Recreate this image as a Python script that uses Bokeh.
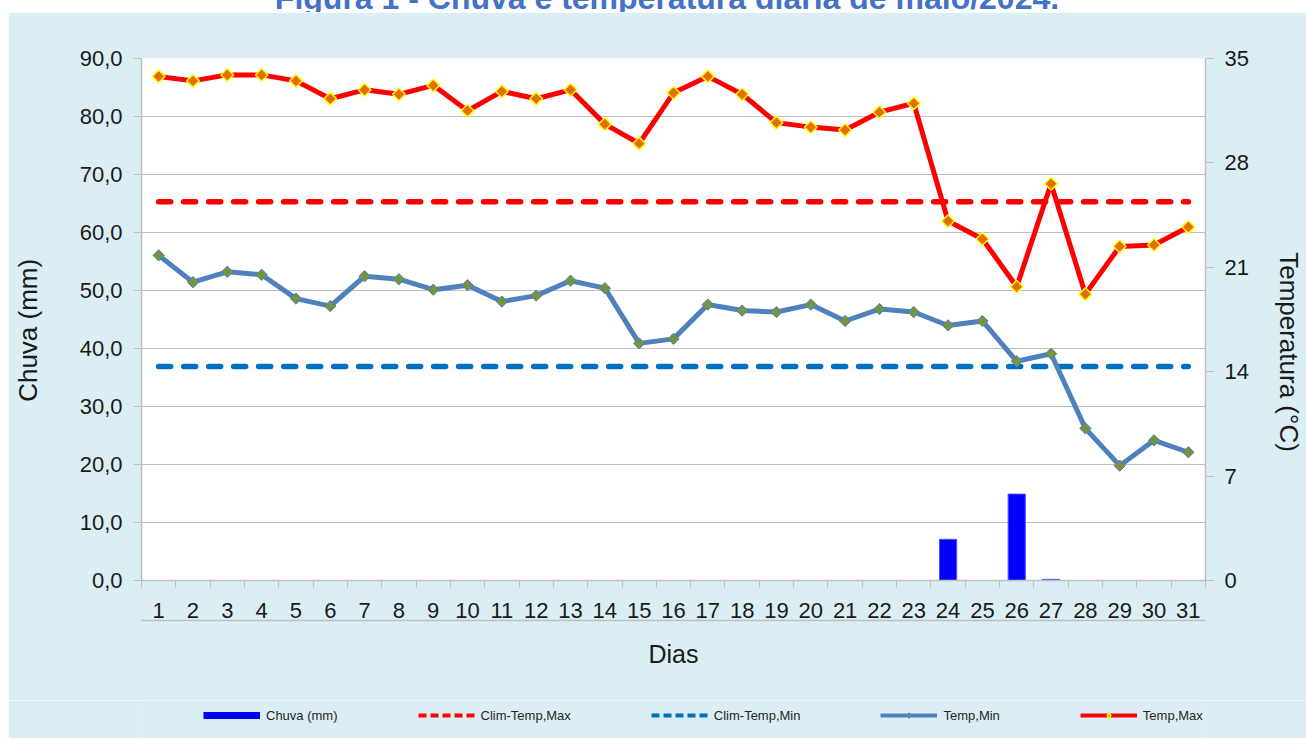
import math
from bokeh.plotting import figure
from bokeh.layouts import column
from bokeh.models import (Range1d, LinearAxis, FixedTicker, Legend, LegendItem,
                          Grid, CustomJSTickFormatter, Div)
from bokeh.embed import file_html
from bokeh.resources import INLINE

# ---------------- data ----------------
days = [1, 2, 3, 4, 5, 6, 7, 8, 9, 10, 11, 12, 13, 14, 15, 16,
        17, 18, 19, 20, 21, 22, 23, 24, 25, 26, 27, 28, 29, 30, 31]
chuva_mm = [0, 0, 0, 0, 0, 0, 0, 0, 0, 0, 0, 0, 0, 0, 0, 0,
            0, 0, 0, 0, 0, 0, 0, 7.1, 0, 14.9, 0.2, 0, 0, 0, 0]
temp_max = [33.8, 33.5, 33.9, 33.9, 33.5, 32.3, 32.9, 32.6, 33.2, 31.5, 32.8,
            32.3, 32.9, 30.6, 29.3, 32.7, 33.8, 32.6, 30.7, 30.4, 30.2, 31.4,
            32.0, 24.1, 22.9, 19.7, 26.6, 19.2, 22.4, 22.5, 23.7]
temp_min = [21.8, 20.0, 20.7, 20.5, 18.9, 18.4, 20.4, 20.2, 19.5, 19.8, 18.7,
            19.1, 20.1, 19.6, 15.9, 16.2, 18.5, 18.1, 18.0, 18.5, 17.4, 18.2,
            18.0, 17.1, 17.4, 14.7, 15.2, 10.2, 7.7, 9.4, 8.6]
clim_temp_max = 25.4
clim_temp_min = 14.35

chuva_ticks = [0, 10, 20, 30, 40, 50, 60, 70, 80, 90]
temp_ticks = [0, 7, 14, 21, 28, 35]

title_text = "Figura 1 - Chuva e temperatura diária de maio/2024."
y_left_title = "Chuva (mm)"
y_right_title = "Temperatura (°C)"
x_title = "Dias"
legend_labels = ["Chuva (mm)", "Clim-Temp,Max", "Clim-Temp,Min",
                 "Temp,Min", "Temp,Max"]

# ---------------- styling ----------------
FONT = "Liberation Sans"
BG = "#DAEEF3"
GRID = "#BFBFBF"
TXT = "#1A1A1A"
C_RAIN = "#0000FF"
C_CMAX = "#FF0000"
C_CMIN = "#0070C0"
C_TMIN = "#4F81BD"
C_TMIN_M = "#77933C"
C_TMAX = "#FF0000"
C_TMAX_M = "#E46C0A"
C_TMAX_E = "#FFFF00"
NBSP = "\u00a0"

# ---------------- title (top of it is outside the page, as in the source) ----
title_div = Div(
    text=('<div style="position:relative; left:14px; top:-20px; width:1306px; '
          'text-align:center; white-space:nowrap; line-height:37px; '
          "font-family:'Liberation Sans'; font-weight:bold; font-size:32px; "
          'color:#4472C4;">' + title_text + '</div>'),
    width=1306, height=12, margin=0,
    styles={"overflow": "hidden", "background-color": "white"})

# ---------------- main chart ----------------
p = figure(width=1298, height=688,
           x_range=Range1d(0.5, 31.5), y_range=Range1d(0, 90),
           x_axis_type=None, y_axis_type=None,
           output_backend="svg", toolbar_location=None,
           min_border_left=133, min_border_right=97,
           min_border_top=46, min_border_bottom=120,
           background_fill_color="white", border_fill_color=BG,
           outline_line_color=None, margin=(0, 0, 0, 8))
p.extra_y_ranges = {"temp": Range1d(0, 35)}

fmt = CustomJSTickFormatter(code="return tick.toFixed(1).replace('.', ',');")

yl = LinearAxis(ticker=FixedTicker(ticks=chuva_ticks), formatter=fmt,
                axis_label=y_left_title + NBSP * 3)
yr = LinearAxis(y_range_name="temp", ticker=FixedTicker(ticks=temp_ticks),
                axis_label=NBSP * 9 + y_right_title)
for ax, stand in ((yl, 34), (yr, 22)):
    ax.axis_line_color = GRID
    ax.axis_line_width = 1.5
    ax.major_tick_line_color = GRID
    ax.major_tick_out = 8
    ax.major_tick_in = 0
    ax.minor_tick_line_color = None
    ax.major_label_text_font = FONT
    ax.major_label_text_font_size = "22px"
    ax.major_label_text_color = TXT
    ax.major_label_standoff = 11
    ax.axis_label_text_font = FONT
    ax.axis_label_text_font_size = "26px"
    ax.axis_label_text_font_style = "normal"
    ax.axis_label_text_color = TXT
    ax.axis_label_standoff = stand
p.add_layout(yl, "left")
p.add_layout(yr, "right")

minor = [d - 0.5 for d in days] + [days[-1] + 0.5]
xa = LinearAxis(ticker=FixedTicker(ticks=days, minor_ticks=minor))
xa.axis_line_color = GRID
xa.axis_line_width = 1.5
xa.major_tick_line_color = None
xa.major_tick_out = 0
xa.major_tick_in = 0
xa.minor_tick_line_color = GRID
xa.minor_tick_out = 7
xa.minor_tick_in = 0
xa.major_label_text_font = FONT
xa.major_label_text_font_size = "22px"
xa.major_label_text_color = TXT
xa.major_label_standoff = 15
p.add_layout(xa, "below")

xb = LinearAxis(ticker=FixedTicker(ticks=[]), axis_label=x_title)
xb.axis_line_color = GRID
xb.axis_line_width = 1.5
xb.major_tick_line_color = None
xb.minor_tick_line_color = None
xb.major_label_standoff = 0
xb.axis_label_text_font = FONT
xb.axis_label_text_font_size = "25px"
xb.axis_label_text_font_style = "normal"
xb.axis_label_text_color = TXT
xb.axis_label_standoff = 19
p.add_layout(xb, "below")

p.add_layout(Grid(dimension=1, ticker=yl.ticker, grid_line_color=GRID,
                  grid_line_width=1.2))

# ---------------- series ----------------
p.vbar(x=days, top=chuva_mm, width=0.5, fill_color=C_RAIN,
       line_color="#4D4DFF", line_width=1)
p.line(days, [clim_temp_max] * len(days), y_range_name="temp",
       line_color=C_CMAX, line_width=5.5, line_dash="12 13", line_cap="round")
p.line(days, [clim_temp_min] * len(days), y_range_name="temp",
       line_color=C_CMIN, line_width=5.5, line_dash="12 13", line_cap="round")
p.line(days, temp_min, y_range_name="temp", line_color=C_TMIN,
       line_width=5, line_join="round")
p.scatter(days, temp_min, y_range_name="temp", marker="square",
          angle=math.pi / 4, size=8, fill_color=C_TMIN_M,
          line_color=C_TMIN, line_width=1)
p.line(days, temp_max, y_range_name="temp", line_color=C_TMAX,
       line_width=5, line_join="round")
p.scatter(days, temp_max, y_range_name="temp", marker="square",
          angle=math.pi / 4, size=9, fill_color=C_TMAX_M,
          line_color=C_TMAX_E, line_width=1.5)

# ---------------- legend strip ----------------
lg = figure(width=1298, height=38, x_range=Range1d(0, 1), y_range=Range1d(0, 1),
            x_axis_type=None, y_axis_type=None, output_backend="svg",
            toolbar_location=None, min_border=0, min_border_left=0,
            min_border_right=0, min_border_top=0, min_border_bottom=0,
            background_fill_color=BG, border_fill_color=BG,
            outline_line_color=None, margin=(0, 0, 0, 8))
# legend-only proxies (one point far outside the strip's ranges)
px, py = [-5], [-5]
r_rain = lg.line(px, py, line_color=C_RAIN, line_width=7)
r_cmax = lg.line(px, py, line_color=C_CMAX, line_width=4, line_dash="8 4")
r_cmin = lg.line(px, py, line_color=C_CMIN, line_width=4, line_dash="8 4")
r_tmin = lg.line(px, py, line_color=C_TMIN, line_width=4)
r_tmin_m = lg.scatter(px, py, marker="diamond", fill_color=C_TMIN_M,
                      line_color=C_TMIN, line_width=1)
r_tmax = lg.line(px, py, line_color=C_TMAX, line_width=4)
r_tmax_m = lg.scatter(px, py, marker="diamond", fill_color=C_TMAX_M,
                      line_color=C_TMAX_E, line_width=1.5)

legend = Legend(items=[
    LegendItem(label=legend_labels[0], renderers=[r_rain]),
    LegendItem(label=legend_labels[1], renderers=[r_cmax]),
    LegendItem(label=legend_labels[2], renderers=[r_cmin]),
    LegendItem(label=legend_labels[3], renderers=[r_tmin, r_tmin_m]),
    LegendItem(label=legend_labels[4], renderers=[r_tmax, r_tmax_m]),
], orientation="horizontal", location=(62, 15.5),
    glyph_width=57, glyph_height=14, label_standoff=6, spacing=80,
    padding=0, margin=0, border_line_color=None, background_fill_alpha=0,
    label_text_font=FONT, label_text_font_size="13px",
    label_text_color="#262626")
lg.add_layout(legend)

layout = column(title_div, p, lg, spacing=0, margin=0)
open("out.html", "w").write(file_html(layout, INLINE))
